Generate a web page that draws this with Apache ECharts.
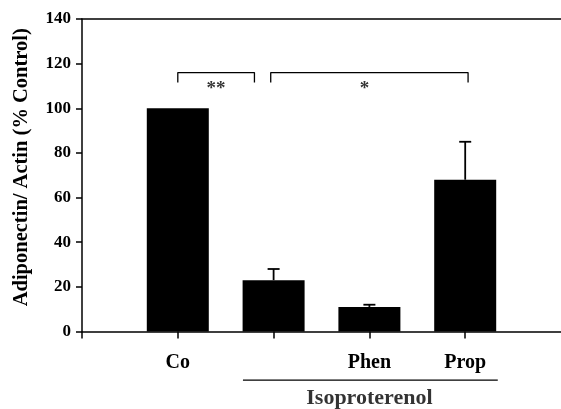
<!DOCTYPE html>
<html>
<head>
<meta charset="utf-8">
<script src="https://cdn.jsdelivr.net/npm/echarts@6/dist/echarts.min.js"></script>
<style>
  html, body { margin: 0; padding: 0; background: #fff; }
  #chart { width: 561px; height: 409px; }
</style>
</head>
<body>
<div id="chart"></div>
<script>
// group names along the x axis (second group sits under the Isoproterenol line, unlabelled)
const categories = ['Co', '', 'Phen', 'Prop'];
const means = [100, 23, 11, 68];
const errTops = [null, 28, 12, 85];
const xTicks = [-1, 0, 1, 2, 3];

// significance brackets, in axis units
const bracketLeft = [[0, 111.5], [0, 116], [0.8, 116], [0.8, 111.5]];
const bracketRight = [[0.97, 111.5], [0.97, 116], [3.03, 116], [3.03, 111.5]];
const stars = [[0.4, 108.8, '**'], [1.95, 108.8, '*']];

// group line + label under the axis
const groupLine = [[0.68, -21.8], [3.34, -21.8]];
const groupLabel = [[2.0, -30, 'Isoproterenol']];

const FONT = 'Liberation Serif';
const chart = echarts.init(document.getElementById('chart'));

const option = {
  animation: false,
  grid: { left: 82, right: 0, top: 19, bottom: 77.5, outerBoundsMode: 'none' },
  xAxis: [
    {
      type: 'value',
      min: -1,
      max: 4,
      interval: 1,
      splitLine: { show: false },
      axisLine: { lineStyle: { color: '#000', width: 1.5 } },
      axisTick: { length: 7, customValues: xTicks, lineStyle: { color: '#000', width: 1.5 } },
      axisLabel: {
        margin: 21,
        color: '#000',
        fontFamily: FONT,
        fontWeight: 'bold',
        fontSize: 20,
        formatter: v => categories[v] || ''
      }
    },
    {
      type: 'value',
      position: 'top',
      min: -1,
      max: 4,
      splitLine: { show: false },
      axisLine: { show: true, lineStyle: { color: '#000', width: 1.5 } },
      axisTick: { show: false },
      axisLabel: { show: false }
    }
  ],
  yAxis: {
    type: 'value',
    min: 0,
    max: 140,
    interval: 20,
    name: 'Adiponectin/ Actin (% Control)',
    nameLocation: 'middle',
    nameGap: 50,
    nameTextStyle: {
      color: '#000', fontFamily: FONT, fontWeight: 'bold', fontSize: 20.5,
      padding: [0, 0, 0, 16]
    },
    splitLine: { show: false },
    axisLine: { show: true, onZero: false, lineStyle: { color: '#000', width: 1.5 } },
    axisTick: { show: true, length: 6, lineStyle: { color: '#000', width: 1.5 } },
    axisLabel: { margin: 11, color: '#000', fontFamily: FONT, fontWeight: 'bold', fontSize: 17 }
  },
  series: [
    {
      type: 'bar',
      barWidth: 62,
      itemStyle: { color: '#000' },
      data: means.map((m, i) => [i, m])
    },
    {
      type: 'custom',
      data: errTops.map((e, i) => [i, means[i], e]).filter(d => d[2] != null),
      renderItem: (params, api) => {
        const base = api.coord([api.value(0), api.value(1)]);
        const top = api.coord([api.value(0), api.value(2)]);
        const half = 6;
        return {
          type: 'group',
          children: [
            { type: 'line', shape: { x1: base[0], y1: base[1], x2: top[0], y2: top[1] }, style: { stroke: '#000', lineWidth: 1.8 } },
            { type: 'line', shape: { x1: top[0] - half, y1: top[1], x2: top[0] + half, y2: top[1] }, style: { stroke: '#000', lineWidth: 1.8 } }
          ]
        };
      }
    },
    {
      type: 'line',
      data: bracketLeft,
      symbol: 'none',
      lineStyle: { color: '#000', width: 1.3 }
    },
    {
      type: 'line',
      data: bracketRight,
      symbol: 'none',
      lineStyle: { color: '#000', width: 1.3 }
    },
    {
      type: 'scatter',
      symbolSize: 0,
      data: stars,
      label: {
        show: true,
        position: 'inside',
        formatter: p => p.value[2],
        color: '#000',
        fontFamily: FONT,
        fontWeight: 'bold',
        fontSize: 19
      }
    },
    {
      type: 'line',
      clip: false,
      data: groupLine,
      symbol: 'none',
      lineStyle: { color: '#000', width: 1.3 }
    },
    {
      type: 'scatter',
      clip: false,
      symbolSize: 0,
      data: groupLabel,
      label: {
        show: true,
        position: 'inside',
        formatter: p => p.value[2],
        color: '#000',
        fontFamily: FONT,
        fontWeight: 'bold',
        fontSize: 22
      }
    }
  ]
};

chart.setOption(option);
</script>
</body>
</html>
